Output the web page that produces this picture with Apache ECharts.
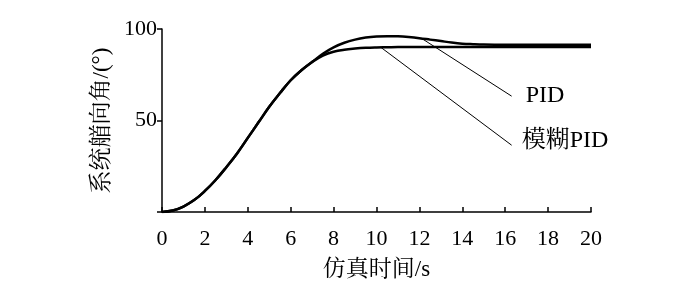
<!DOCTYPE html>
<html><head><meta charset="utf-8">
<script src="https://cdn.jsdelivr.net/npm/echarts@6/dist/echarts.min.js"></script>
<style>html,body{margin:0;padding:0;background:#fff}#c{width:700px;height:306px}</style>
</head><body><div id="c"></div>
<script>
const times = [0,0.5,1,1.5,2,2.5,3,3.5,4,4.5,5,5.5,6,6.5,7,7.5,8,8.5,9,9.5,10,10.5,11,11.5,12,12.5,13,13.5,14,14.5,15,16,17,18,19,20];
const pidValues = [0,0.8,3,6.5,11.5,17.5,24.5,32,40.5,49,57.5,65,72,77.5,82,86.5,90,92.5,94.2,95.3,95.9,96.1,96,95.6,95,94.2,93.4,92.6,92,91.7,91.5,91.4,91.4,91.4,91.4,91.4];
const fuzzyValues = [0,0.8,3,6.5,11.5,17.5,24.5,32,40.5,49,57.5,65,72,77.5,82,85.5,87.6,88.7,89.3,89.7,89.9,90,90.1,90.1,90.2,90.2,90.2,90.2,90.2,90.2,90.2,90.2,90.2,90.2,90.2,90.2];
const seriesNames = ['PID','模糊PID'];
const xTicks = [0,2,4,6,8,10,12,14,16,18,20];
const yTicks = [50,100];
const pidLeader = [[12.1,94.9],[16.3,63.3]];
const fuzzyLeader = [[10.2,90.0],[16.3,36.5]];
const xName = '仿真时间/s';
const yName = '系统艏向角/(°)';

const FONT = '"Liberation Serif","Noto Serif CJK SC","Noto Sans CJK SC",serif';
const chart = echarts.init(document.getElementById('c'), null, {renderer:'canvas'});
function pairs(vals){ return times.map((t,i)=>[t,vals[i]]); }
function leader(pts, label, offsetY, dist){
  return {
    markLine:{silent:true,symbol:'none',animation:false,
      lineStyle:{color:'#000',width:1,type:'solid'},label:{show:false},
      data:[[{coord:pts[0]},{coord:pts[1]}]]},
    markPoint:{silent:true,symbol:'circle',symbolSize:0,animation:false,
      label:{show:true,position:'right',distance:dist,offset:[0,offsetY],formatter:label,color:'#000',fontSize:24,fontFamily:FONT},
      data:[{coord:pts[1]}]}
  };
}
chart.setOption({
  animation:false,
  grid:{left:162,right:109,top:29,bottom:94,containLabel:false},
  xAxis:{type:'value',min:0,max:20,interval:2,
    name:xName,nameLocation:'middle',nameGap:46,
    nameTextStyle:{color:'#000',fontSize:23,fontFamily:FONT},
    axisLine:{lineStyle:{color:'#000',width:1.5}},
    axisTick:{inside:true,length:5,lineStyle:{color:'#000',width:1.5}},
    axisLabel:{color:'#000',fontSize:22,fontFamily:FONT,margin:16,
      formatter:v=>xTicks.includes(v)?String(v):''},
    splitLine:{show:false}},
  yAxis:{type:'value',min:0,max:100,interval:50,
    name:yName,nameLocation:'middle',nameGap:48,nameRotate:90,
    nameTextStyle:{color:'#000',fontSize:23,fontFamily:FONT},
    axisLine:{show:true,lineStyle:{color:'#000',width:1.5}},
    axisTick:{show:true,length:5,lineStyle:{color:'#000',width:1.5}},
    axisLabel:{color:'#000',fontSize:22,fontFamily:FONT,margin:5,
      formatter:v=>yTicks.includes(v)?String(v):''},
    splitLine:{show:false}},
  series:[
    Object.assign({name:seriesNames[0],type:'line',data:pairs(pidValues),smooth:0.4,showSymbol:false,
      lineStyle:{color:'#000',width:2.5},z:3}, leader(pidLeader,seriesNames[0],0,14)),
    Object.assign({name:seriesNames[1],type:'line',data:pairs(fuzzyValues),smooth:0.4,showSymbol:false,
      lineStyle:{color:'#000',width:2.5},z:3}, leader(fuzzyLeader,seriesNames[1],-5,10))
  ]
});
</script></body></html>
